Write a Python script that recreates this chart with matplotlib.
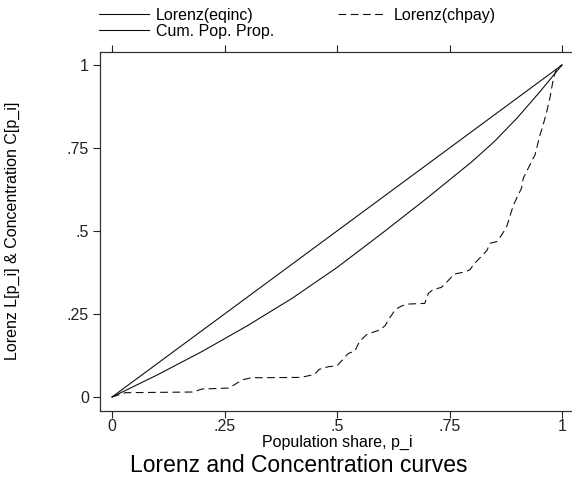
import matplotlib
matplotlib.use("Agg")
import matplotlib.pyplot as plt

plt.rcParams['font.family'] = ['Liberation Sans', 'DejaVu Sans']

# Lorenz curve of equivalised income
p_eqinc = [0, 0.1, 0.2, 0.3, 0.4, 0.5, 0.6, 0.7, 0.8, 0.85, 0.9, 0.95, 1.0]
L_eqinc = [0, 0.066, 0.137, 0.214, 0.297, 0.39, 0.493, 0.599, 0.709, 0.77, 0.84, 0.918, 1.0]

# concentration curve of chpay
p_chpay = [0, 0.03, 0.18, 0.20, 0.26, 0.29, 0.31, 0.42, 0.45, 0.46, 0.48, 0.50,
           0.515, 0.525, 0.54, 0.55, 0.565, 0.58, 0.595, 0.607, 0.615, 0.63,
           0.645, 0.66, 0.695, 0.703, 0.714, 0.732, 0.748, 0.76, 0.785, 0.796,
           0.803, 0.814, 0.822, 0.833, 0.84, 0.855, 0.866, 0.877, 0.892, 0.91,
           0.914, 0.925, 0.936, 0.94, 0.951, 0.958, 0.966, 0.973, 0.977, 0.981,
           0.988, 1.0]
C_chpay = [0, 0.013, 0.015, 0.024, 0.027, 0.052, 0.058, 0.059, 0.068, 0.083,
           0.091, 0.094, 0.116, 0.131, 0.139, 0.167, 0.187, 0.195, 0.202, 0.215,
           0.234, 0.264, 0.275, 0.28, 0.282, 0.312, 0.324, 0.33, 0.352, 0.37,
           0.377, 0.384, 0.398, 0.414, 0.425, 0.441, 0.463, 0.468, 0.488, 0.513,
           0.578, 0.629, 0.659, 0.689, 0.719, 0.729, 0.789, 0.819, 0.859, 0.9,
           0.93, 0.96, 0.99, 1.0]

# 45 degree line
p_cum = [0, 1]
c_cum = [0, 1]

ticks = [0, 0.25, 0.5, 0.75, 1]
tick_labels = ["0", ".25", ".5", ".75", "1"]

W, H = 572, 478
fig = plt.figure(figsize=(W / 100, H / 100), dpi=100)
ax = fig.add_axes([100 / W, 1 - 411 / H, (W - 100) / W, (411 - 52) / H])

lc = '#111111'
l1, = ax.plot(p_eqinc, L_eqinc, color=lc, lw=0.8)
l2, = ax.plot(p_chpay, C_chpay, color=lc, lw=0.8, dashes=(7, 4))
l3, = ax.plot(p_cum, c_cum, color=lc, lw=0.8)

ax.set_xlim(-12 / 450, 1 + 10 / 450)
ax.set_ylim(-14 / 332, 1 + 13 / 332)

ax.set_xticks(ticks)
ax.set_xticklabels(tick_labels)
ax.set_yticks(ticks)
ax.set_yticklabels(tick_labels)
ax.tick_params(axis='x', which='both', top=True, bottom=True, labeltop=False,
               direction='out', length=5, width=0.8, pad=0.5, labelsize=11.5,
               colors='#222222')
ax.tick_params(axis='y', direction='out', length=5, width=0.8, pad=3,
               labelsize=11.5, colors='#222222')
ax.spines['right'].set_visible(False)
for s in ['left', 'top', 'bottom']:
    ax.spines[s].set_linewidth(0.9)
    ax.spines[s].set_color('#333333')

fig.text(12 / W, 1 - 231 / H, "Lorenz L[p_i] & Concentration C[p_i]",
         rotation=90, ha='center', va='center', fontsize=11.5)
fig.text(337 / W, 1 - 442 / H, "Population share, p_i",
         ha='center', va='center', fontsize=11.5)
fig.text(299 / W, 1 - 465 / H, "Lorenz and Concentration curves",
         ha='center', va='center', fontsize=16.5)

fig.legend([l1, l3, l2], ["Lorenz(eqinc)", "Cum. Pop. Prop.", "Lorenz(chpay)"],
           ncol=2, loc='upper left', bbox_to_anchor=(99 / W, 1 - 8 / H),
           frameon=False, fontsize=11.5, handlelength=3.1, handletextpad=0.44,
           columnspacing=4.0, labelspacing=0.05, borderpad=0, borderaxespad=0)

fig.savefig("out.png", dpi=100)
